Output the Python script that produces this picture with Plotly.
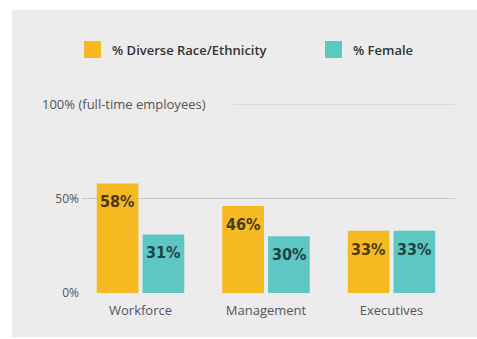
import plotly.graph_objects as go

# Data
categories = ["Workforce", "Management", "Executives"]
series_names = ["% Diverse Race/Ethnicity", "% Female"]
diverse_pct = [58, 46, 33]
female_pct = [31, 30, 33]
y_tick_vals = [0, 50]
y_tick_text = ["0%", "50%"]
top_line_val = 100
top_line_text = "100% (full-time employees)"

ORANGE = "#F5B921"
TEAL = "#5EC7C4"
PANEL = "#ECECEC"
GRID = "#C9C9C9"
TEXT = "#555555"

W, H = 477, 339
ML, MR, MT, MB = 82, 22, 104, 46
PW, PH = W - ML - MR, H - MT - MB


def px_x(p):
    return (p - ML) / PW


def px_y(p):
    return (H - MB - p) / PH


fig = go.Figure()
fig.add_trace(go.Bar(x=categories, y=diverse_pct, name=series_names[0],
                     marker=dict(color=ORANGE, line=dict(width=0))))
fig.add_trace(go.Bar(x=categories, y=female_pct, name=series_names[1],
                     marker=dict(color=TEAL, line=dict(width=0))))

shapes = [
    # grey card behind the chart
    dict(type="rect", xref="paper", yref="paper", layer="below",
         x0=px_x(12), x1=px_x(477), y0=px_y(337), y1=px_y(10),
         fillcolor=PANEL, line=dict(width=0)),
    # 100% reference line
    dict(type="line", xref="paper", yref="y", layer="below",
         x0=px_x(233), x1=1, y0=top_line_val, y1=top_line_val,
         line=dict(color=GRID, width=1)),
]

annotations = [
    dict(xref="paper", yref="y", x=px_x(40), y=top_line_val, xanchor="left",
         yanchor="middle", text=top_line_text, showarrow=False,
         font=dict(family="Open Sans", size=13, color=TEXT)),
]

# value labels inside the top of each bar
label_colors = ["#4A3A12", "#1F4343"]
for i, (vals, shift) in enumerate([(diverse_pct, -23), (female_pct, 23)]):
    for cat, v in zip(categories, vals):
        annotations.append(dict(
            x=cat, y=v, xref="x", yref="y", xshift=shift, yshift=-7,
            xanchor="center", yanchor="top", showarrow=False,
            text=f"{v}%",
            font=dict(family="DejaVu Sans Condensed, DejaVu Sans",
                      size=16, color=label_colors[i], weight="bold")))

# legend drawn as swatches + text
legend_items = [(series_names[0], ORANGE, 84), (series_names[1], TEAL, 325)]
for name, color, x0 in legend_items:
    shapes.append(dict(type="rect", xref="paper", yref="paper",
                       x0=px_x(x0), x1=px_x(x0 + 17), y0=px_y(58), y1=px_y(41),
                       fillcolor=color, line=dict(width=0)))
    annotations.append(dict(xref="paper", yref="paper", x=px_x(x0 + 26),
                            y=px_y(50), xanchor="left", yanchor="middle",
                            text=name, showarrow=False,
                            font=dict(family="Open Sans", size=13,
                                      color="#333333", weight=600)))

fig.update_layout(
    width=W, height=H,
    margin=dict(l=ML, r=MR, t=MT, b=MB, pad=0),
    paper_bgcolor="white",
    plot_bgcolor="rgba(0,0,0,0)",
    barmode="group",
    bargap=0.27,
    bargroupgap=0.09,
    showlegend=False,
    shapes=shapes,
    annotations=annotations,
    font=dict(family="Open Sans", size=13, color=TEXT),
    xaxis=dict(range=[-0.466, 2.506], showgrid=False, zeroline=False,
               showline=False, ticks="", ticklabelstandoff=8,
               tickfont=dict(size=13, color=TEXT)),
    yaxis=dict(range=[0, 100], tickvals=y_tick_vals, ticktext=y_tick_text,
               showgrid=True, gridcolor=GRID, gridwidth=1, zeroline=False,
               showline=False, ticks="", ticklabelstandoff=2,
               tickfont=dict(size=12, color=TEXT)),
)

fig.write_html("out.html")
